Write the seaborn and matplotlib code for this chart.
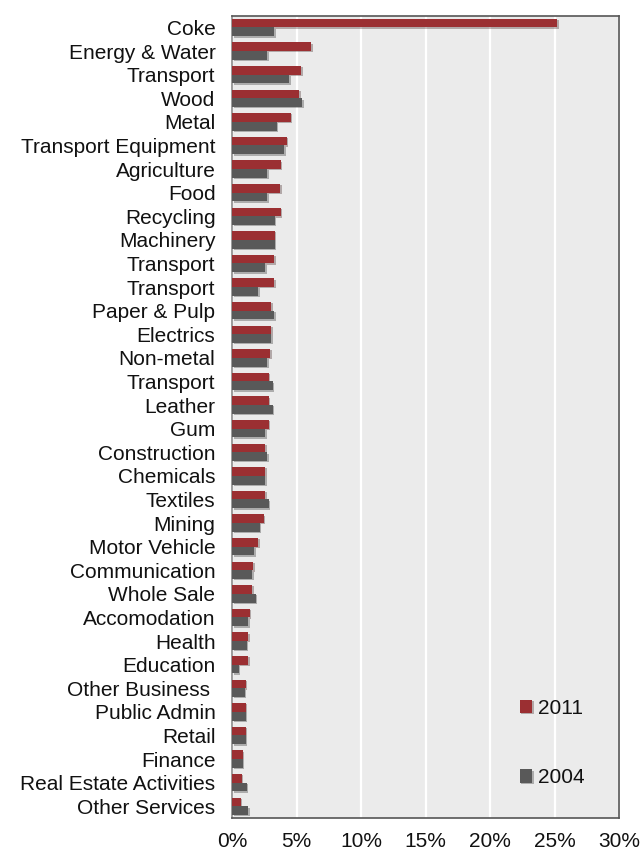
import pandas as pd
import matplotlib.pyplot as plt
import matplotlib.patheffects as pe
import seaborn as sns

# category labels, top to bottom (Transport appears several times)
sectors = ['Coke', 'Energy & Water', 'Transport', 'Wood', 'Metal', 'Transport Equipment',
           'Agriculture', 'Food', 'Recycling', 'Machinery', 'Transport', 'Transport',
           'Paper & Pulp', 'Electrics', 'Non-metal', 'Transport', 'Leather', 'Gum',
           'Construction', 'Chemicals', 'Textiles', 'Mining', 'Motor Vehicle',
           'Communication', 'Whole Sale', 'Accomodation', 'Health', 'Education',
           'Other Business ', 'Public Admin', 'Retail', 'Finance',
           'Real Estate Activities', 'Other Services']

# shares in %
val_2011 = [25.2, 6.15, 5.35, 5.22, 4.55, 4.24, 3.75, 3.72, 3.75, 3.33, 3.26, 3.26,
            3.05, 3.05, 2.95, 2.84, 2.84, 2.84, 2.56, 2.56, 2.56, 2.45, 2.04,
            1.65, 1.55, 1.37, 1.24, 1.24, 1.06, 1.06, 1.06, 0.85, 0.75, 0.65]
val_2004 = [3.26, 2.74, 4.42, 5.45, 3.46, 4.03, 2.74, 2.74, 3.33, 3.33, 2.56, 2.04,
            3.26, 3.05, 2.74, 3.15, 3.15, 2.56, 2.74, 2.56, 2.84, 2.14, 1.73,
            1.55, 1.83, 1.24, 1.14, 0.54, 0.96, 1.06, 1.06, 0.85, 1.14, 1.24]

years = ['2011', '2004']
colors = {'2011': '#9b2f32', '2004': '#595959'}

rows = []
for i, s in enumerate(sectors):
    rows.append({'row': i, 'year': '2011', 'value': val_2011[i]})
    rows.append({'row': i, 'year': '2004', 'value': val_2004[i]})
df = pd.DataFrame(rows)

sns.set_style('white')
plt.rcParams['font.family'] = ['Liberation Sans', 'DejaVu Sans']

fig = plt.figure(figsize=(6.43, 8.5), dpi=100)
ax = fig.add_axes([0.361, 0.0376, 0.602, 0.944])
ax.set_facecolor('#ebebeb')

sns.barplot(data=df, x='value', y='row', hue='year', hue_order=years, orient='h',
            palette=colors, width=0.74, ax=ax, saturation=1, linewidth=0, zorder=3)

# soft shadow like the original
for p in ax.patches:
    p.set_path_effects([pe.SimplePatchShadow(offset=(1, -1), alpha=0.3), pe.Normal()])

n = len(sectors)
ax.set_xlim(0, 30)
ax.set_ylim(n - 0.5, -0.5)
ax.set_xticks(range(0, 31, 5))
ax.set_xticklabels([f'{t}%' for t in range(0, 31, 5)], fontsize=15, color='#111111')
ax.set_yticks(range(n))
ax.set_yticklabels(sectors, fontsize=15, color='#111111')
ax.set_yticks([i + 0.5 for i in range(-1, n)], minor=True)
ax.tick_params(axis='y', which='major', length=0, pad=12)
ax.tick_params(axis='y', which='minor', length=5, color='#888888', direction='out')
ax.tick_params(axis='x', which='major', length=5, color='#333333', direction='out', pad=5)
ax.set_xlabel('')
ax.set_ylabel('')

ax.grid(axis='x', color='white', linewidth=1.6, zorder=0)
ax.set_axisbelow(True)
for side, sp in ax.spines.items():
    sp.set_visible(True)
    sp.set_color('#555555')
    sp.set_linewidth(1.2)
ax.spines['left'].set_color('#8a8a8a')

handles, labels = ax.get_legend_handles_labels()
leg = ax.legend(handles, labels, loc='lower left', bbox_to_anchor=(0.695, 0.015),
                frameon=False, fontsize=15, handlelength=0.6, handleheight=0.6,
                handletextpad=0.25, labelspacing=2.42)
for t in leg.get_texts():
    t.set_color('#111111')

plt.savefig('out.png', dpi=100)
